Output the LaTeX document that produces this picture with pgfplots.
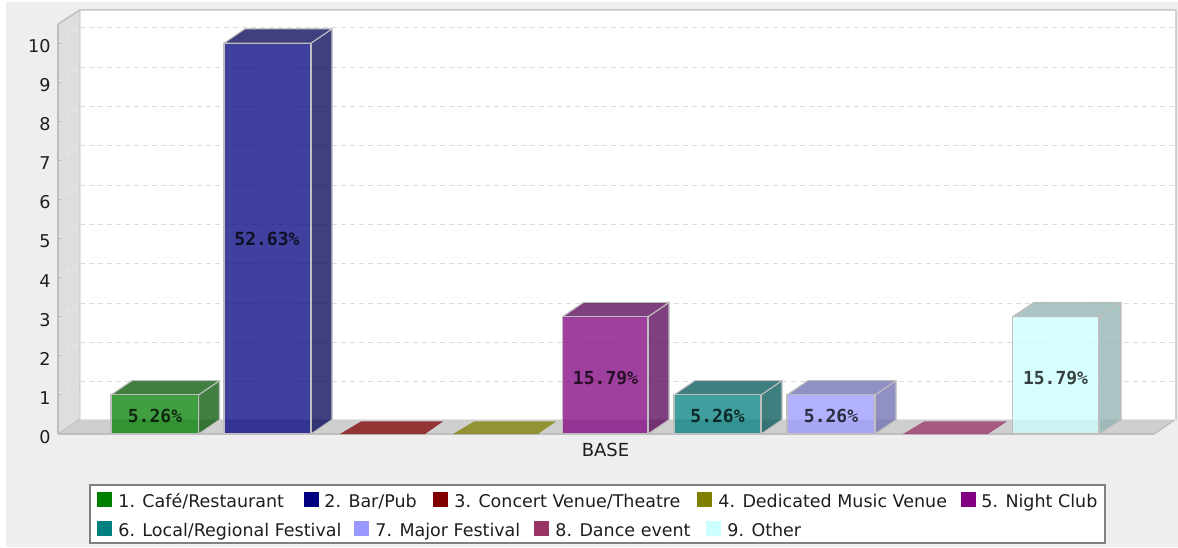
\documentclass[border=0pt]{standalone}
\usepackage{fontspec}
\setmainfont{DejaVu Sans}
\newfontfamily\labfont{DejaVu Sans Mono}
\usepackage{pgfplots}
\pgfplotsset{compat=1.18}

\definecolor{cGreen}{RGB}{0,128,0}   \definecolor{dGreen}{RGB}{0,85,0}
\definecolor{cNavy}{RGB}{0,0,128}    \definecolor{dNavy}{RGB}{0,0,85}
\definecolor{cRed}{RGB}{128,0,0}
\definecolor{cOlive}{RGB}{128,128,0}
\definecolor{cPurple}{RGB}{128,0,128} \definecolor{dPurple}{RGB}{85,0,85}
\definecolor{cTeal}{RGB}{0,128,128}  \definecolor{dTeal}{RGB}{0,85,85}
\definecolor{cLav}{RGB}{153,153,255} \definecolor{dLav}{RGB}{107,107,178}
\definecolor{cRose}{RGB}{153,51,102}
\definecolor{cCyan}{RGB}{204,255,255} \definecolor{dCyan}{RGB}{143,178,178}
\definecolor{bgGrey}{RGB}{238,238,238}
\definecolor{edge}{RGB}{190,190,190}
\definecolor{txt}{RGB}{30,30,30}

\begin{document}
\begin{tikzpicture}
% 1 image pixel = 0.5pt, scope coordinates are image pixels
\useasboundingbox (-29pt,-57pt) rectangle (560pt,216.5pt);
\begin{scope}[x=0.5pt,y=-0.5pt,shift={(-29pt,216.5pt)}]
  \fill[white] (0,0) rectangle (1178,547);
  \fill[bgGrey] (6,2) rectangle (1178,547);
  % walls and floor
  \fill[white] (80,10) rectangle (1176,419);
  \fill[black!13] (58,434) -- (58,24) -- (80,10) -- (80,419) -- cycle;
  \fill[black!19] (58,434) -- (1154,434) -- (1176,419) -- (80,419) -- cycle;
  \draw[edge,line width=0.7pt] (58,24) -- (80,10) -- (1176,10) -- (1176,419) -- (1154,434);
  \draw[edge,line width=0.4pt] (80,10) -- (80,419) -- (58,434);
  \draw[black!10,line width=0.3pt] (80,419) -- (1176,419);
  % grid
  \foreach \g in {28,68,107,146,185,224,263,303,342,381}{
    \draw[black!14,line width=0.5pt,dash pattern=on 2.5pt off 2pt] (80,\g) -- (1176,\g);
    \draw[black!8,line width=0.4pt,dash pattern=on 2.5pt off 2pt] (58,\g+14) -- (80,\g);
  }
\end{scope}

\begin{axis}[
    at={(0pt,-0.5pt)}, anchor=south west,
    scale only axis, width=548pt, height=205pt,
    xmin=58, xmax=1154, ymin=0, ymax=10.49,
    clip=false,
    axis lines*=left,
    axis line style={edge,line width=0.6pt,-},
    ytick={0,1,...,10},
    xtick={605.5}, xticklabels={BASE},
    major tick length=2pt,
    x tick style={draw=none},
    y tick style={edge,line width=0.5pt},
    tick label style={text=txt},
    yticklabel style={font=\fontsize{8.8}{10}\selectfont,inner sep=0pt,xshift=-3.5pt,yshift=-1.5pt},
    xticklabel style={font=\fontsize{9}{10}\selectfont,inner sep=0pt,yshift=-4.5pt},
    /pgf/number format/assume math mode=true,
    bar/.style={draw=edge,line width=0.55pt,fill opacity=0.75,line join=round},
    flat/.style={draw=none,fill opacity=0.75},
  ]
  % 1. Cafe/Restaurant, value 1
  \addplot[bar,fill=dGreen] coordinates {(198.5,0) (219.5,0.366) (219.5,1.366) (198.5,1) (198.5,0)};
  \addplot[bar,fill=dGreen] coordinates {(111,1) (132,1.366) (219.5,1.366) (198.5,1) (111,1)};
  \addplot[bar,fill=cGreen] coordinates {(111,0) (111,1) (198.5,1) (198.5,0) (111,0)};
  % 2. Bar/Pub, value 10
  \addplot[bar,fill=dNavy] coordinates {(311,0) (332,0.366) (332,10.366) (311,10) (311,0)};
  \addplot[bar,fill=dNavy] coordinates {(224,10) (245,10.366) (332,10.366) (311,10) (224,10)};
  \addplot[bar,fill=cNavy] coordinates {(224,0) (224,10) (311,10) (311,0) (224,0)};
  % 3. and 4., value 0
  \addplot[flat,fill=cRed] coordinates {(340,0) (361,0.32) (443,0.32) (425,0) (340,0)};
  \addplot[flat,fill=cOlive] coordinates {(453,0) (474,0.32) (556,0.32) (538,0) (453,0)};
  % 5. Night Club, value 3
  \addplot[bar,fill=dPurple] coordinates {(648,0) (669,0.366) (669,3.366) (648,3) (648,0)};
  \addplot[bar,fill=dPurple] coordinates {(562.5,3) (583.5,3.366) (669,3.366) (648,3) (562.5,3)};
  \addplot[bar,fill=cPurple] coordinates {(562.5,0) (562.5,3) (648,3) (648,0) (562.5,0)};
  % 6. Local/Regional Festival, value 1
  \addplot[bar,fill=dTeal] coordinates {(761,0) (782,0.366) (782,1.366) (761,1) (761,0)};
  \addplot[bar,fill=dTeal] coordinates {(674,1) (695,1.366) (782,1.366) (761,1) (674,1)};
  \addplot[bar,fill=cTeal] coordinates {(674,0) (674,1) (761,1) (761,0) (674,0)};
  % 7. Major Festival, value 1
  \addplot[bar,fill=dLav] coordinates {(875,0) (896,0.366) (896,1.366) (875,1) (875,0)};
  \addplot[bar,fill=dLav] coordinates {(787,1) (808,1.366) (896,1.366) (875,1) (787,1)};
  \addplot[bar,fill=cLav] coordinates {(787,0) (787,1) (875,1) (875,0) (787,0)};
  % 8. Dance event, value 0
  \addplot[flat,fill=cRose] coordinates {(903,0) (924,0.32) (1007,0.32) (988,0) (903,0)};
  % 9. Other, value 3
  \addplot[bar,fill=dCyan] coordinates {(1099,0) (1121,0.366) (1121,3.366) (1099,3) (1099,0)};
  \addplot[bar,fill=dCyan] coordinates {(1012.5,3) (1034,3.366) (1121,3.366) (1099,3) (1012.5,3)};
  \addplot[bar,fill=cCyan] coordinates {(1012.5,0) (1012.5,3) (1099,3) (1099,0) (1012.5,0)};
\end{axis}

\begin{scope}[x=0.5pt,y=-0.5pt,shift={(-29pt,216.5pt)},
    val/.style={font=\labfont\bfseries\fontsize{9}{10}\selectfont,text=black,text opacity=0.75,inner sep=0pt},
    leg/.style={font=\fontsize{8.75}{10}\selectfont,text=txt,anchor=base west,inner sep=0pt}]
  % percentage labels
  \node[val] at (155,416) {5.26\%};
  \node[val] at (267,239) {52.63\%};
  \node[val] at (605.5,378) {15.79\%};
  \node[val] at (717.5,416) {5.26\%};
  \node[val] at (831,416) {5.26\%};
  \node[val] at (1055.5,378) {15.79\%};
  % legend
  \draw[fill=white,draw=black!50,line width=0.7pt] (90,485) rectangle (1105,543);
  \fill[cGreen]  (97,492) rectangle +(15,15);   \node[leg] at (118,507) {1. Café/Restaurant};
  \fill[cNavy]   (304,492) rectangle +(15,15);  \node[leg] at (324,507) {2. Bar/Pub};
  \fill[cRed]    (433,492) rectangle +(15,15);  \node[leg] at (454,507) {3. Concert Venue/Theatre};
  \fill[cOlive]  (697,492) rectangle +(15,15);  \node[leg] at (718,507) {4. Dedicated Music Venue};
  \fill[cPurple] (961,492) rectangle +(15,15);  \node[leg] at (981,507) {5. Night Club};
  \fill[cTeal]   (97,521) rectangle +(15,15);   \node[leg] at (118,536) {6. Local/Regional Festival};
  \fill[cLav]    (354,521) rectangle +(15,15);  \node[leg] at (375,536) {7. Major Festival};
  \fill[cRose]   (534,521) rectangle +(15,15);  \node[leg] at (555,536) {8. Dance event};
  \fill[cCyan]   (706,521) rectangle +(15,15);  \node[leg] at (727,536) {9. Other};
\end{scope}
\end{tikzpicture}
\end{document}
